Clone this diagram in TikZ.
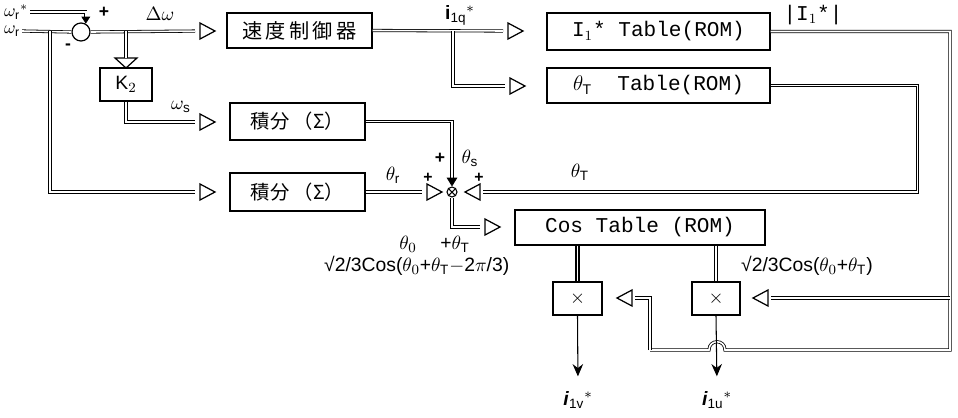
\documentclass[tikz,border=0pt]{standalone}
\usepackage{fontspec}
\setmainfont{Liberation Sans}
\setmonofont{Liberation Mono}
\newfontfamily\jpfont{Noto Sans CJK JP}
\usetikzlibrary{arrows.meta}

\tikzset{
  bus/.style={double, double distance=0.9pt, line width=0.45pt},
  sig/.style={line width=0.6pt},
  blk/.style={draw, line width=0.7pt, inner sep=0pt},
  romtxt/.style={font=\ttfamily\fontsize{12}{14}\selectfont},
  trir/.pic={\draw[line width=0.7pt] (0,-8) -- (15,0) -- (0,8) -- cycle;},
  tril/.pic={\draw[line width=0.7pt] (0,-8) -- (-15,0) -- (0,8) -- cycle;},
  trid/.pic={\draw[line width=0.7pt] (-11,0) -- (0,10) -- (11,0) -- cycle;},
}

\begin{document}
\begin{tikzpicture}[x=0.02cm,y=-0.02cm,font=\fontsize{11}{13}\selectfont]
\useasboundingbox (0,0) rectangle (958,417);

% blocks
\node[blk, minimum width=2.9cm, minimum height=0.7cm] (spd) at (299.5,30.5) {\jpfont\fontsize{11.5}{13}\selectfont 速\,度\,制\,御\,器};
\node[blk, minimum width=1.04cm, minimum height=0.66cm] (k2) at (126,84.5) {K$_2$};
\node[blk, minimum width=2.7cm, minimum height=0.74cm] (intA) at (297.5,121.5) {\jpfont 積分 （Σ）};
\node[blk, minimum width=2.7cm, minimum height=0.76cm] (intB) at (297.5,192) {\jpfont 積分 （Σ）};
\node[blk, romtxt, minimum width=4.46cm, minimum height=0.74cm] (itab) at (658.5,31.5) {I$_1$* Table(ROM)};
\node[blk, romtxt, minimum width=4.46cm, minimum height=0.7cm] (ttab) at (658.5,85.5) {$\theta_\mathrm{T}$\ \ Table(ROM)};
\node[blk, romtxt, minimum width=5cm, minimum height=0.7cm] (cos) at (640,227.5) {Cos Table (ROM)};
\node[blk, minimum width=0.98cm, minimum height=0.66cm] (mv) at (577.5,298.5) {$\times$};
\node[blk, minimum width=0.96cm, minimum height=0.66cm] (mu) at (716,298.5) {$\times$};

% summing points
\node[circle, draw, line width=0.7pt, minimum size=0.36cm, inner sep=0pt] (sj1) at (81,32) {};
\node[circle, draw, line width=0.6pt, minimum size=0.2cm, inner sep=0pt,
  path picture={\draw (path picture bounding box.north west) -- (path picture bounding box.south east)
    (path picture bounding box.south west) -- (path picture bounding box.north east);}] (sj2) at (452,192) {};

% input triangles
\coordinate (tspd) at (200,31);  \pic at (tspd) {trir};
\coordinate (tk2) at (126,58);   \pic at (tk2) {trid};
\coordinate (tia) at (200,122);  \pic at (tia) {trir};
\coordinate (tib) at (200,192);  \pic at (tib) {trir};
\coordinate (titab) at (508,31); \pic at (titab) {trir};
\coordinate (tttab) at (510,86); \pic at (tttab) {trir};
\coordinate (tsl) at (427,192);  \pic at (tsl) {trir};
\coordinate (tsr) at (480,192);  \pic at (tsr) {tril};
\coordinate (tcos) at (485,227); \pic at (tcos) {trir};
\coordinate (tmv) at (632,298);  \pic at (tmv) {tril};
\coordinate (tmu) at (768,298);  \pic at (tmu) {tril};

% labels
\node[anchor=west, inner sep=1pt, font=\fontsize{10}{11}\selectfont] (wrs) at (2,12) {$\omega_\mathrm{r}{}^{*}$};
\node[anchor=west, inner sep=1pt, font=\fontsize{10}{11}\selectfont] (wr) at (2,31) {$\omega_\mathrm{r}$};
\node[font=\bfseries] at (104,12) {+};
\node[font=\bfseries] at (68,47) {-};
\node at (160,14) {$\Delta\omega$};
\node at (181,107) {$\omega_\mathrm{s}$};
\node at (460,15) {\textbf{i}$_\mathrm{1q}{}^{*}$};
\node[romtxt] at (813,15) {|I$_1$*|};
\node[font=\bfseries] at (440,158) {+};
\node at (470,158) {$\theta_\mathrm{s}$};
\node at (393,175) {$\theta_\mathrm{r}$};
\node[font=\bfseries\small] at (428,178) {+};
\node[font=\bfseries\small] at (479,178) {+};
\node at (580,172) {$\theta_\mathrm{T}$};
\node at (408,244) {$\theta_0$};
\node at (455,244) {+$\theta_\mathrm{T}$};
\node[anchor=west] at (318,266) {√2/3Cos($\theta_0$+$\theta_\mathrm{T}$$-$2$\pi$/3)};
\node[anchor=west] at (735,266) {√2/3Cos($\theta_0$+$\theta_\mathrm{T}$)};
\node (iv) at (578,400) {\textbf{\textit{i}}$_\mathrm{1v}{}^{*}$};
\node (iu) at (717,400) {\textbf{\textit{i}}$_\mathrm{1u}{}^{*}$};

% connectors
\coordinate (br1) at (50,31);
\coordinate (br2) at (126,31);
\coordinate (br3) at (453,31);
\coordinate (rc) at (950,298);
\coordinate (rr) at (950,350);
\coordinate (hop) at (717,350);
\coordinate (lc) at (650,350);
\draw[bus, -{Triangle[length=4pt,width=5pt]}] (wrs.east) -| (sj1.60);
\draw[bus] (wr.east) -- (sj1.west);
\draw[bus, shorten >=0.1cm] (br1) |- (tib);
\draw[bus, shorten >=0.1cm] (sj1.east) -- (tspd);
\draw[bus] (br2) -- (tk2);
\draw[bus, shorten >=0.1cm] (k2.south) |- (tia);
\draw[bus, shorten >=0.1cm] (spd.east) -- (titab);
\draw[bus, shorten >=0.1cm] (br3) |- (tttab);
\draw[bus, -{Triangle[length=5pt,width=6pt]}] (intA.east) -| (sj2.north);
\draw[bus, shorten >=0.1cm] (intB.east) -- (tsl);
\draw[bus, shorten >=0.06cm] (ttab.east) -- ++(147,0) |- (tsr);
\draw[bus, shorten >=0.1cm] (sj2.south) |- (tcos);
\draw[bus] (itab.east) -| (rr) -- ([xshift=0.16cm]hop)
  .. controls +(0,-11) and +(0,-11) .. ([xshift=-0.16cm]hop) -- (lc);
\draw[bus, shorten >=0.06cm] (lc) |- (tmv);
\draw[bus, shorten >=0.06cm] (rc) -- (tmu);
\draw[bus, line width=0.8pt] (cos.south -| mv) -- (mv.north);
\draw[bus, line width=0.8pt] (cos.south -| mu) -- (mu.north);
\draw[sig, -{Stealth[length=7pt,width=6pt]}, shorten >=0.18cm] (mv.south) -- (iv.north);
\draw[sig, -{Stealth[length=7pt,width=6pt]}, shorten >=0.18cm] (mu.south) -- (iu.north);
\end{tikzpicture}
\end{document}
